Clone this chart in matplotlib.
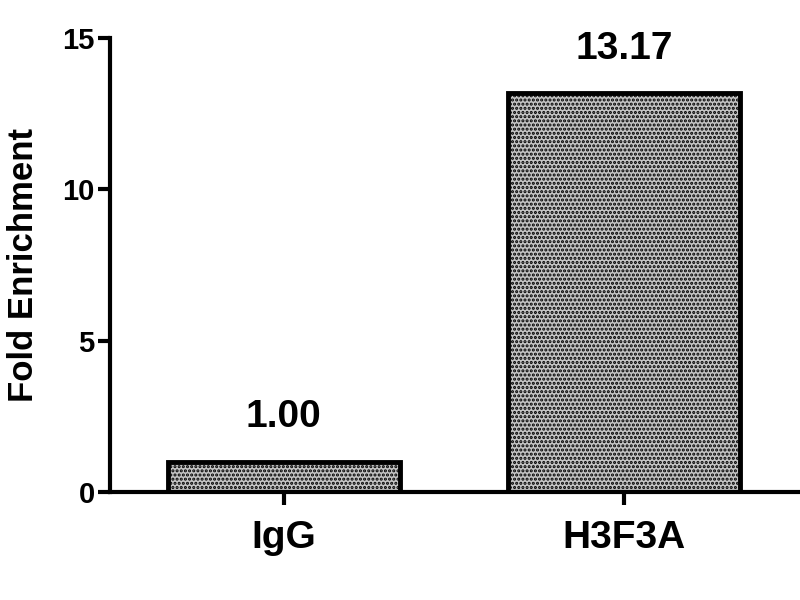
import matplotlib
matplotlib.use("Agg")
import matplotlib.pyplot as plt

# data
groups = ["IgG", "H3F3A"]
fold = [1.00, 13.17]
labels = ["1.00", "13.17"]

plt.rcParams['font.family'] = ['Liberation Sans', 'DejaVu Sans']
plt.rcParams['font.weight'] = 'bold'
plt.rcParams['hatch.linewidth'] = 1.5
plt.rcParams['hatch.color'] = '#222222'

fig = plt.figure(figsize=(8, 6), dpi=100)
ax = fig.add_axes([0.1375, 0.18, 0.86, 0.757])

x = list(range(len(groups)))
bars = ax.bar(x, fold, width=0.68, color='#c4c4c4', edgecolor='black',
              linewidth=3.5, hatch='....')
for b in bars:
    b.set_edgecolor('black')

for xi, v, s in zip(x, fold, labels):
    ax.annotate(s, (xi, v), xytext=(0, 19), textcoords='offset points',
                ha='center', va='bottom', fontsize=28, fontweight='bold')

ax.set_xlim(-0.51, 1.51)
ax.set_ylim(0, 15)
ax.set_yticks([0, 5, 10, 15])
ax.set_xticks(x)
ax.set_xticklabels(groups, fontsize=28, fontweight='bold')
ax.set_ylabel("Fold Enrichment", fontsize=25, fontweight='bold', labelpad=16)

for sp in ['top', 'right']:
    ax.spines[sp].set_visible(False)
for sp in ['left', 'bottom']:
    ax.spines[sp].set_linewidth(3)
ax.tick_params(axis='y', labelsize=21, width=3, length=9, pad=2)
ax.tick_params(axis='x', width=3, length=9, pad=11)
for t in ax.get_yticklabels():
    t.set_fontweight('bold')

fig.savefig("out.png", dpi=100)
